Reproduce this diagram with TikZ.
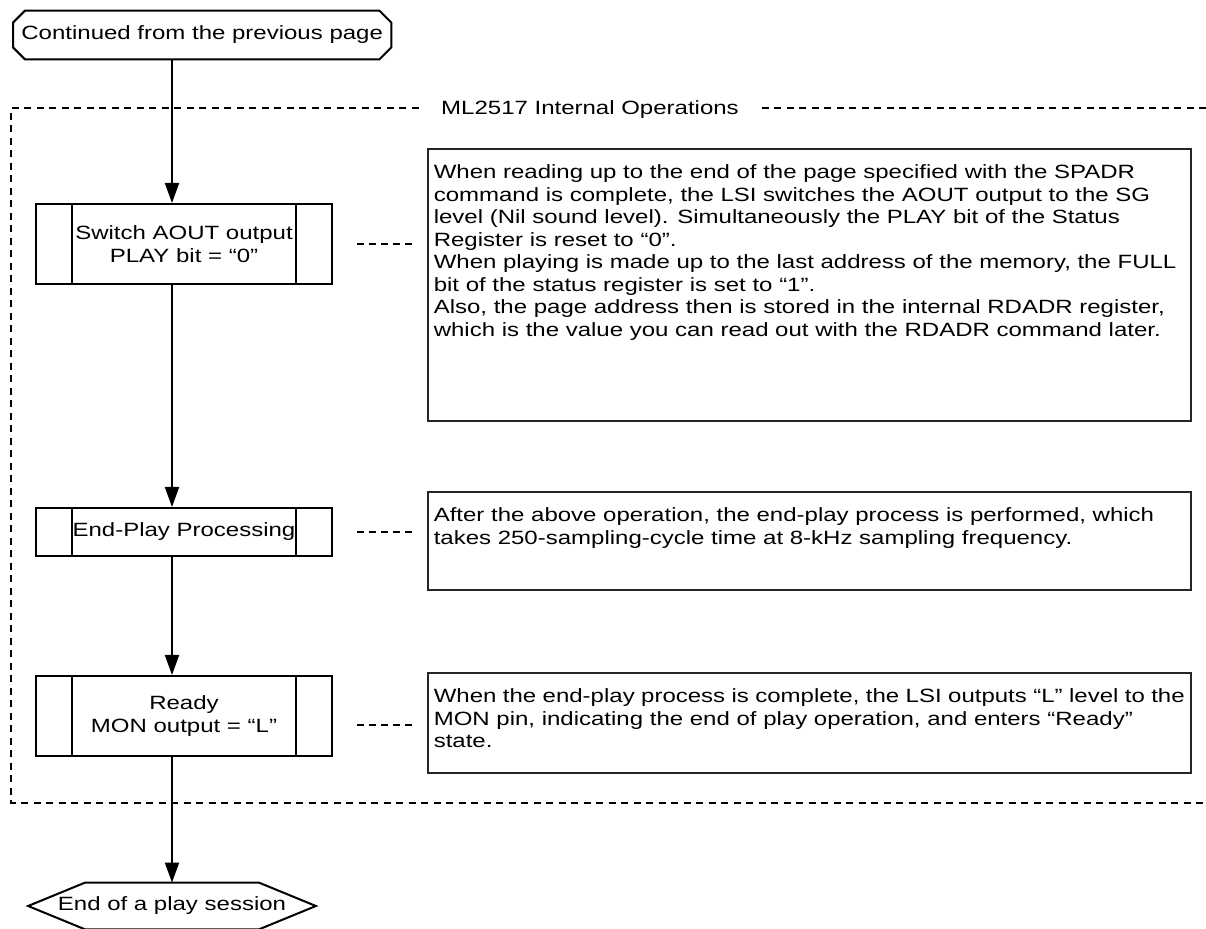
\documentclass[tikz,border=0pt]{standalone}
\usepackage{fontspec}
\setmainfont{Liberation Sans}[FakeStretch=1.25]
\usetikzlibrary{positioning,arrows.meta}

\begin{document}
\begin{tikzpicture}[x=0.5pt,y=-0.5pt,
  font=\fontsize{9.6}{11.25}\selectfont,
  proc/.style={draw,line width=1pt,minimum width=148pt,inner sep=0pt,align=center,
    path picture={\draw[line width=1pt]
      ([xshift=18pt]path picture bounding box.north west) -- ([xshift=18pt]path picture bounding box.south west)
      ([xshift=-18pt]path picture bounding box.north east) -- ([xshift=-18pt]path picture bounding box.south east);}},
  note/.style={draw=black!85,line width=0.8pt,anchor=north west,inner xsep=3pt,inner ysep=7pt},
  term/.style={inner sep=0pt,minimum height=24pt},
  sym/.style={line width=1pt},
  arr/.style={-{Triangle[length=10pt,width=7pt]},line width=1pt},
  lead/.style={line width=0.6pt,dash pattern=on 3.5pt off 2.5pt,shorten <=12pt,shorten >=6.5pt},
  frame/.style={line width=0.7pt,dash pattern=on 3.5pt off 2.75pt}
]
\useasboundingbox (0,0) rectangle (1206,929);
\coordinate (spine) at (172,0);

\node[term,anchor=west,inner xsep=4pt] (start) at (13,35) {Continued from the previous page};
\draw[sym] ([xshift=6pt]start.north west) -- ([xshift=-6pt]start.north east) -- ([yshift=-6pt]start.north east)
  -- ([yshift=6pt]start.south east) -- ([xshift=-6pt]start.south east) -- ([xshift=6pt]start.south west)
  -- ([yshift=6pt]start.south west) -- ([yshift=-6pt]start.north west) -- cycle;

\draw[frame] (1206,108) -- (11,108) -- (11,803) -- (1206,803);
\node[fill=white,inner xsep=9pt,inner ysep=2pt] (ops) at (590,110) {ML2517 Internal Operations};

\node[proc,minimum height=40pt] (swa) at (184,244) {Switch AOUT output\\PLAY bit = “0”};
\node[proc,minimum height=24pt] (epp) at (184,532) {End-Play Processing};
\node[proc,minimum height=40pt] (rdy) at (184,716) {Ready\\MON output = “L”};

\node[term,minimum width=143.5pt,minimum height=23pt] (done) at (172,906) {End of a play session};
\draw[sym] (done.west) -- ([xshift=28.5pt]done.north west) -- ([xshift=-28.5pt]done.north east) -- (done.east)
  -- ([xshift=-28.5pt]done.south east) -- ([xshift=28.5pt]done.south west) -- cycle;

\node[note] (n1) at (427,148) {\parbox[t][122pt][t]{375.5pt}{\strut When reading up to the end of the page specified with the SPADR\\
command is complete, the LSI switches the AOUT output to the SG\\
level (Nil sound level). Simultaneously the PLAY bit of the Status\\
Register is reset to “0”.\\
When playing is made up to the last address of the memory, the FULL\\
bit of the status register is set to “1”.\\
Also, the page address then is stored in the internal RDADR register,\\
which is the value you can read out with the RDADR command later.}};
\node[note] (n2) at (427,491) {\parbox[t][35pt][t]{375.5pt}{\strut After the above operation, the end-play process is performed, which\\
takes 250-sampling-cycle time at 8-kHz sampling frequency.}};
\node[note] (n3) at (427,672) {\parbox[t][36pt][t]{375.5pt}{\strut When the end-play process is complete, the LSI outputs “L” level to the\\
MON pin, indicating the end of play operation, and enters “Ready”\\
state.}};

\draw[arr] (spine |- start.south) -- (spine |- swa.north);
\draw[arr] (spine |- swa.south) -- (spine |- epp.north);
\draw[arr] (spine |- epp.south) -- (spine |- rdy.north);
\draw[arr] (spine |- rdy.south) -- (spine |- done.north);

\draw[lead] (swa.east) -- (n1.west |- swa.east);
\draw[lead] (epp.east) -- (n2.west |- epp.east);
\draw[lead] ([yshift=-4.5pt]rdy.east) -- ([yshift=-4.5pt]n3.west |- rdy.east);
\end{tikzpicture}
\end{document}
